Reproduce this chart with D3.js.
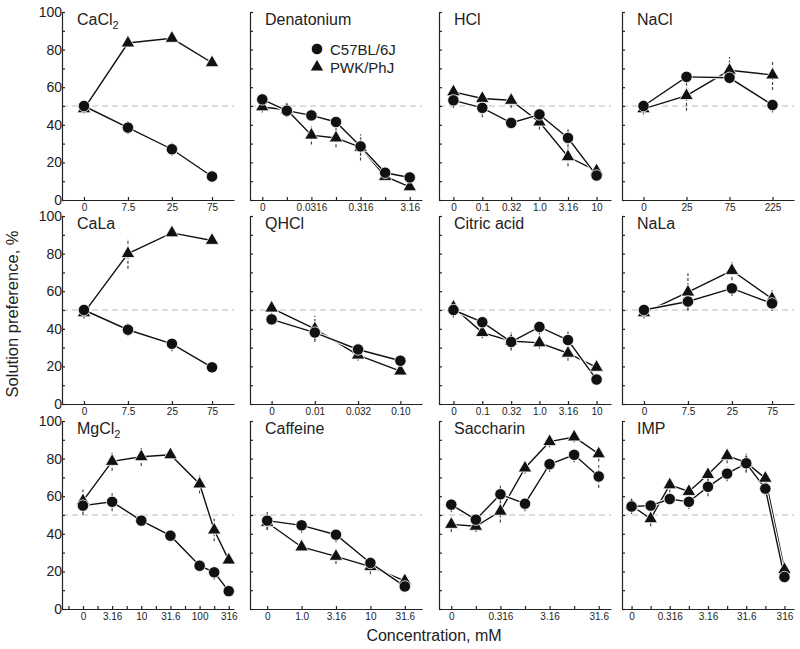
<!DOCTYPE html>
<html lang="en">
<head>
    <meta charset="UTF-8">
    <title>Solution preference</title>
    <script src="https://d3js.org/d3.v7.min.js"></script>
    <style>
        body { margin: 0; background: #fff; }
        svg { display: block; font-family: "Liberation Sans", Arial, sans-serif; }
        .axis path, .axis line { stroke: #222; stroke-width: 1.2px; }
        .axis text { fill: #222; font-family: "Liberation Sans", Arial, sans-serif; }
        .x-axis text { font-size: 10px; }
        .y-axis text { font-size: 14px; }
        .ref-line { stroke: #bbb; stroke-width: 1px; stroke-dasharray: 6,4; }
        .err { stroke: #444; stroke-width: 1.2px; stroke-dasharray: 3,2; }
        .halo { fill: none; stroke: #fff; stroke-width: 3.5px; }
        .series { fill: none; stroke: #111; stroke-width: 1.4px; }
        .marker { fill: #111; stroke: #fff; stroke-width: 0.8px; }
    </style>
</head>
<body>
<svg id="chart" width="800" height="649"></svg>
<script>
    // panels, left to right and top to bottom
    const panelNames = ["CaCl2", "Denatonium", "HCl", "NaCl",
        "CaLa", "QHCl", "Citric acid", "NaLa",
        "MgCl2", "Caffeine", "Saccharin", "IMP"];

    // concentrations, mM
    const concentrations = [
        [0, 7.5, 25, 75],
        [0, 0.01, 0.0316, 0.1, 0.316, 1, 3.16],
        [0, 0.1, 0.32, 1, 3.16, 10],
        [0, 25, 75, 225],
        [0, 7.5, 25, 75],
        [0, 0.01, 0.032, 0.1],
        [0, 0.1, 0.32, 1, 3.16, 10],
        [0, 7.5, 25, 75],
        [0, 3.16, 10, 31.6, 100, 178, 316],
        [0, 1, 3.16, 10, 31.6],
        [0, 0.1, 0.316, 1, 3.16, 10, 31.6],
        [0, 0.1, 0.316, 1, 3.16, 10, 31.6, 100, 316]
    ];

    const tickLabels = [
        ["0", "7.5", "25", "75"],
        ["0", "", "0.0316", "", "0.316", "", "3.16"],
        ["0", "0.1", "0.32", "1.0", "3.16", "10"],
        ["0", "25", "75", "225"],
        ["0", "7.5", "25", "75"],
        ["0", "0.01", "0.032", "0.10"],
        ["0", "0.1", "0.32", "1.0", "3.16", "10"],
        ["0", "7.5", "25", "75"],
        ["0", "3.16", "10", "31.6", "100", "", "316"],
        ["0", "1.0", "3.16", "10", "31.6"],
        ["0", "", "0.316", "", "3.16", "", "31.6"],
        ["0", "", "0.316", "", "3.16", "", "31.6", "", "316"]
    ];

    // preference, % (mean and error)
    const c57Pref = [
        [50, 38.5, 27, 12.5],
        [53.5, 47.5, 45, 41.5, 28.5, 14.5, 12],
        [53, 49, 41, 45.5, 33, 13],
        [50, 65.5, 65, 50.5],
        [50, 39.5, 32, 19.5],
        [45, 38, 29, 23],
        [50, 43.5, 33, 41, 34, 13],
        [50, 54.5, 61.5, 53.5],
        [55, 57, 47, 39, 23, 19.5, 9.5],
        [47, 44.5, 39.5, 24.5, 12],
        [55.5, 47.5, 61, 56, 77, 82, 70.5],
        [54.5, 55, 58.5, 57, 65, 72, 77.5, 64, 17]
    ];
    const c57Err = [
        [4, 3.5, 3.5, 2],
        [3, 3, 3, 4, 5, 3, 2],
        [4, 5, 3, 4, 5, 2],
        [3, 3, 3, 4],
        [4, 3.5, 4, 2],
        [3, 4, 3, 2],
        [4, 4, 4, 4, 5, 2],
        [3, 4, 4, 4],
        [5, 5, 2, 2, 2, 4, 2],
        [5, 4, 4, 3, 2],
        [4, 3, 5, 4, 4, 4, 6],
        [4, 3, 3, 4, 5, 4, 5, 4, 2]
    ];
    const pwkPref = [
        [48.5, 83.5, 86, 73],
        [49.5, 48, 34.5, 33, 28, 12.5, 7],
        [57.5, 54, 53, 41.5, 23, 15.5],
        [48.5, 55.5, 69, 66.5],
        [48.5, 80, 91, 87],
        [51, 40, 26, 17.5],
        [51.5, 38, 33.5, 32.5, 27, 19.5],
        [48.5, 59.5, 71, 56],
        [57.5, 78.5, 81, 82, 66.5, 42, 26],
        [46, 33, 28, 22.5, 15],
        [45, 44, 52, 75, 89, 91.5, 82.5],
        [55, 48, 66, 62.5, 71.5, 81.5, 78, 69.5, 21]
    ];
    const pwkErr = [
        [2, 2, 2, 2],
        [3, 4, 5, 5, 7, 2, 2],
        [3, 3, 4, 4, 5, 2],
        [3, 8, 7, 8],
        [3, 8, 2, 2],
        [4, 7, 3, 2],
        [3, 3, 5, 3, 4, 2],
        [3, 10, 5, 5],
        [6, 5, 5, 2, 5, 6, 2],
        [4, 2, 4, 4, 2],
        [4, 3, 6, 3, 3, 3, 4],
        [3, 4, 4, 4, 4, 4, 5, 4, 2]
    ];

    const strainNames = ["C57BL/6J", "PWK/PhJ"];

    // MgCl2 axis is in log10 units with minor ticks every quarter decade
    const xDomainOverride = {8: [-0.36, 2.59]};
    const minorTickStep = {8: 0.25};

    const svg = d3.select("#chart");
    svg.append("rect").attr("width", 800).attr("height", 649).attr("fill", "#fff");

    const colLeft = [62, 250, 439, 622];
    const rowTop = [12, 216, 421];
    const panelW = 172, panelH = 188;

    const triangle = d3.symbol().type(d3.symbolTriangle).size(80);

    function addTitle(g, name) {
        const t = g.append("text")
                .attr("x", 15)
                .attr("y", 13)
                .attr("font-size", 16)
                .attr("fill", "#222");
        const m = name.match(/^(.*Cl)(2)$/);
        if (m) {
            t.append("tspan").text(m[1]);
            t.append("tspan").attr("font-size", 11).attr("dy", 4).text(m[2]);
        } else {
            t.text(name);
        }
    }

    panelNames.forEach(function (name, i) {
        const col = i % 4, row = Math.floor(i / 4);
        const g = svg.append("g")
                .attr("transform", "translate(" + colLeft[col] + "," + rowTop[row] + ")");

        // x positions: log10 of concentration, water (0) one step before the first one
        const logs = concentrations[i].map(function (c) { return c > 0 ? Math.log10(c) : null; });
        const step = logs[2] - logs[1];
        const xs = logs.map(function (v) { return v === null ? logs[1] - step : v; });
        const domain = xDomainOverride[i] || [xs[0] - step / 2, xs[xs.length - 1] + step / 2];

        const x = d3.scaleLinear().domain(domain).range([0, panelW]);
        const y = d3.scaleLinear().domain([0, 100]).range([panelH, 0]);

        // 50% reference line
        g.append("line")
                .attr("class", "ref-line")
                .attr("x1", 0).attr("x2", panelW)
                .attr("y1", y(50)).attr("y2", y(50));

        // axes
        let tickVals = xs;
        if (minorTickStep[i]) {
            tickVals = d3.range(domain[0] + 0.11, domain[1], minorTickStep[i])
                    .map(function (v) { return Math.round(v / minorTickStep[i]) * minorTickStep[i]; });
        }
        const xAxis = d3.axisBottom(x)
                .tickValues(tickVals)
                .tickSize(-3)
                .tickSizeOuter(0)
                .tickPadding(4)
                .tickFormat(function (v) {
                    const k = xs.findIndex(function (p) { return Math.abs(p - v) < 0.01; });
                    return k >= 0 ? tickLabels[i][k] : "";
                });
        g.append("g")
                .attr("class", "axis x-axis")
                .attr("transform", "translate(0," + panelH + ")")
                .call(xAxis)
                .attr("font-family", null);

        const yAxis = d3.axisLeft(y)
                .tickValues(d3.range(0, 101, 10))
                .tickSize(-3)
                .tickSizeOuter(0)
                .tickPadding(0)
                .tickFormat(function (v) { return (col === 0 && v % 20 === 0) ? v : ""; });
        g.append("g")
                .attr("class", "axis y-axis")
                .call(yAxis)
                .attr("font-family", null);

        // data
        const series = [pwkPref[i], c57Pref[i]].map(function (vals, s) {
            const errs = s === 0 ? pwkErr[i] : c57Err[i];
            return vals.map(function (v, k) { return {x: xs[k], y: v, e: errs[k]}; });
        });

        // error bars
        series.forEach(function (pts) {
            g.append("g").selectAll("line")
                    .data(pts)
                    .enter().append("line")
                    .attr("class", "err")
                    .attr("x1", function (d) { return x(d.x); })
                    .attr("x2", function (d) { return x(d.x); })
                    .attr("y1", function (d) { return y(d.y - d.e); })
                    .attr("y2", function (d) { return y(d.y + d.e); });
        });

        const line = d3.line()
                .x(function (d) { return x(d.x); })
                .y(function (d) { return y(d.y); });

        series.forEach(function (pts) {
            g.append("path").attr("class", "halo").attr("d", line(pts));
            g.append("path").attr("class", "series").attr("d", line(pts));
        });

        // PWK triangles, then C57 circles
        g.append("g").selectAll("path")
                .data(series[0])
                .enter().append("path")
                .attr("class", "marker")
                .attr("d", triangle)
                .attr("transform", function (d) { return "translate(" + x(d.x) + "," + y(d.y) + ")"; });

        g.append("g").selectAll("circle")
                .data(series[1])
                .enter().append("circle")
                .attr("class", "marker")
                .attr("r", 5.7)
                .attr("cx", function (d) { return x(d.x); })
                .attr("cy", function (d) { return y(d.y); });

        addTitle(g, name);

        // legend sits in the Denatonium panel
        if (i === 1) {
            const lg = g.append("g").attr("transform", "translate(67,37)");
            lg.append("circle").attr("class", "marker").attr("r", 5.7);
            lg.append("text").attr("x", 13).attr("y", 6).attr("font-size", 15)
                    .attr("fill", "#222").text(strainNames[0]);
            lg.append("path").attr("class", "marker").attr("d", triangle)
                    .attr("transform", "translate(0,18)");
            lg.append("text").attr("x", 13).attr("y", 24).attr("font-size", 15)
                    .attr("fill", "#222").text(strainNames[1]);
        }
    });

    // axis titles
    svg.append("text")
            .attr("x", 434)
            .attr("y", 641)
            .attr("text-anchor", "middle")
            .attr("font-size", 16)
            .attr("fill", "#222")
            .text("Concentration, mM");

    svg.append("text")
            .attr("transform", "translate(18,314) rotate(-90)")
            .attr("text-anchor", "middle")
            .attr("font-size", 16.5)
            .attr("fill", "#222")
            .text("Solution preference, %");
</script>
</body>
</html>
